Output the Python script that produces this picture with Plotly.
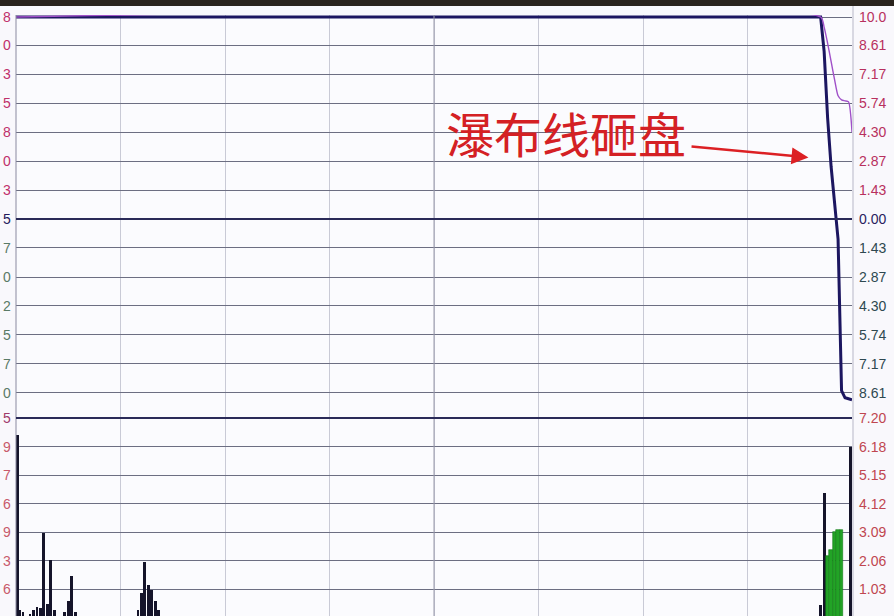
import plotly.graph_objects as go

W, H = 894, 616
X0, X1 = 16, 852          # plot left / right in px
Y_TOP, Y_MID, Y_BOT = 15, 418, 616

def px(x):
    return x / W

def py(y):
    return 1 - y / H

# ---------------- data ----------------
price_minutes = [0, 231, 232, 233, 234, 235, 236, 237, 238, 239, 240]
price_pct = [10.0, 10.0, 8.3, 5.0, 2.6, 0.9, -1.0, -8.5, -8.85, -8.9, -8.95]

avg_minutes = [0, 231, 232, 233, 234, 235, 236, 237, 238, 239, 240]
avg_pct = [10.0, 10.0, 9.5, 8.7, 7.8, 6.9, 6.1, 5.9, 5.85, 5.8, 4.3]

vol_minutes_dark = [0, 1, 2, 4, 5, 6, 7, 8, 9, 10, 11, 14, 15, 16, 17,
                    35, 36, 37, 38, 39, 40, 41, 231, 232, 240]
vol_dark = [6.6, 0.3, 0.2, 0.15, 0.3, 0.4, 0.35, 3.06, 0.5, 2.1, 0.3, 0.2, 0.6, 1.5, 0.2,
            0.3, 0.9, 2.0, 1.2, 1.0, 0.6, 0.3, 0.45, 4.5, 6.15]
vol_minutes_green = [233, 234, 235, 236, 237]
vol_green = [2.25, 2.45, 3.1, 3.16, 3.16]

price_ticks = [10.0, 8.61, 7.17, 5.74, 4.30, 2.87, 1.43, 0.0,
               -1.43, -2.87, -4.30, -5.74, -7.17, -8.61]
price_tick_text = ["10.0", "8.61", "7.17", "5.74", "4.30", "2.87", "1.43", "0.00",
                   "1.43", "2.87", "4.30", "5.74", "7.17", "8.61"]
left_price_digits = ["8", "0", "3", "5", "8", "0", "3", "5",
                     "7", "0", "2", "5", "7", "0"]

vol_ticks = [7.21, 6.18, 5.15, 4.12, 3.09, 2.06, 1.03]
vol_tick_text = ["7.20", "6.18", "5.15", "4.12", "3.09", "2.06", "1.03"]
left_vol_digits = ["5", "9", "7", "6", "9", "3", "6"]

annotation_text = "瀑布线砸盘"

# ---------------- figure ----------------
fig = go.Figure()

bar_w = 0.8
dark_offsets = [0 if m == 0 else (-bar_w if m == 240 else -bar_w / 2) for m in vol_minutes_dark]
fig.add_trace(go.Bar(x=vol_minutes_dark, y=vol_dark, width=bar_w, offset=dark_offsets,
                     marker=dict(color="#15142a", line=dict(width=0)),
                     xaxis="x2", yaxis="y2"))
fig.add_trace(go.Bar(x=vol_minutes_green, y=vol_green, width=1.0,
                     marker=dict(color="#22a326", line=dict(color="#127a16", width=0.6)),
                     xaxis="x2", yaxis="y2"))

fig.add_trace(go.Scatter(x=price_minutes, y=price_pct, mode="lines",
                         line=dict(color="#1c1660", width=3), xaxis="x", yaxis="y"))
fig.add_trace(go.Scatter(x=avg_minutes, y=avg_pct, mode="lines",
                         line=dict(color="#a050c8", width=1.4, shape="spline", smoothing=0.6),
                         xaxis="x", yaxis="y"))

xdom = [px(X0), px(X1)]
fig.update_layout(
    width=W, height=H,
    margin=dict(l=0, r=0, t=0, b=0),
    paper_bgcolor="#f9f8fc",
    plot_bgcolor="#fbfbfe",
    showlegend=False,
    bargap=0,
    barmode="overlay",
    xaxis=dict(domain=xdom, range=[0, 240], anchor="y",
               showgrid=True, dtick=30, tick0=0, gridcolor="#c9cad6", gridwidth=1,
               showticklabels=False, zeroline=False, ticks=""),
    yaxis=dict(domain=[py(Y_MID), py(Y_TOP)], range=[-9.85, 10.1], anchor="x",
               tickvals=price_ticks, showgrid=True, gridcolor="#6c6e82", gridwidth=1,
               showticklabels=False, zeroline=False, ticks=""),
    xaxis2=dict(domain=xdom, range=[0, 240], anchor="y2",
                showgrid=True, dtick=30, tick0=0, gridcolor="#c9cad6", gridwidth=1,
                showticklabels=False, zeroline=False, ticks=""),
    yaxis2=dict(domain=[py(Y_BOT), py(Y_MID)], range=[0.07, 7.21], anchor="x2",
                tickvals=vol_ticks[1:], showgrid=True, gridcolor="#6c6e82", gridwidth=1,
                showticklabels=False, zeroline=False, ticks=""),
)

shapes = []
shapes.append(dict(type="line", xref="paper", yref="paper",
                   x0=px(434), x1=px(434), y0=0, y1=py(Y_TOP),
                   line=dict(color="#9a9aac", width=1)))
shapes.append(dict(type="line", xref="paper", yref="paper",
                   x0=px(X0), x1=px(X0), y0=0, y1=py(Y_TOP),
                   line=dict(color="#8a8aa0", width=1)))
shapes.append(dict(type="line", xref="paper", yref="paper",
                   x0=px(X1 + 1), x1=px(X1 + 1), y0=0, y1=1,
                   line=dict(color="#b8b8c8", width=1)))
shapes.append(dict(type="line", xref="paper", yref="y",
                   x0=px(X0), x1=px(X1), y0=0, y1=0,
                   line=dict(color="#2a2a58", width=2)))
shapes.append(dict(type="line", xref="paper", yref="paper",
                   x0=px(X0), x1=px(X1), y0=py(Y_MID), y1=py(Y_MID),
                   line=dict(color="#2a2a58", width=2)))
shapes.append(dict(type="rect", xref="paper", yref="paper",
                   x0=0, x1=1, y0=py(6), y1=1, line=dict(width=0),
                   fillcolor="#2a231d"))
fig.update_layout(shapes=shapes)

ann = []
for v, t in zip(price_ticks, price_tick_text):
    if v > 0:
        col = "#b8305e"
    elif v == 0:
        col = "#2a1d60"
    else:
        col = "#2e4850"
    ann.append(dict(xref="paper", yref="y", x=px(857), y=v, text=t, showarrow=False,
                    xanchor="left", yanchor="middle",
                    font=dict(family="Liberation Sans", size=14, color=col)))
for v, t in zip(price_ticks, left_price_digits):
    if v > 0:
        col = "#c0306a"
    elif v == 0:
        col = "#251a5a"
    else:
        col = "#5a7a66"
    ann.append(dict(xref="paper", yref="y", x=px(13), y=v, text=t, showarrow=False,
                    xanchor="right", yanchor="middle",
                    font=dict(family="Liberation Sans", size=14, color=col)))
for v, t in zip(vol_ticks, vol_tick_text):
    ann.append(dict(xref="paper", yref="y2", x=px(857), y=v, text=t, showarrow=False,
                    xanchor="left", yanchor="middle",
                    font=dict(family="Liberation Sans", size=14, color="#c04650")))
for v, t in zip(vol_ticks, left_vol_digits):
    ann.append(dict(xref="paper", yref="y2", x=px(13), y=v, text=t, showarrow=False,
                    xanchor="right", yanchor="middle",
                    font=dict(family="Liberation Sans", size=14,
                              color="#a03a6a" if v > 7 else "#c85a6a")))

ann.append(dict(xref="x", yref="y", x=158, y=4.3, text=annotation_text, showarrow=False,
                xanchor="center", yanchor="middle",
                font=dict(family="Noto Sans CJK SC", size=48, color="#d42024")))
ann.append(dict(xref="x", yref="y", x=227.5, y=3.05, ax=193.5, ay=3.6,
                axref="x", ayref="y", text="", showarrow=True,
                arrowhead=2, arrowsize=1.3, arrowwidth=2.6, arrowcolor="#dc2024"))
fig.update_layout(annotations=ann)

fig.write_html("out.html", config={"displayModeBar": False},
               post_script="document.body.style.margin='0';document.body.style.padding='0';")
